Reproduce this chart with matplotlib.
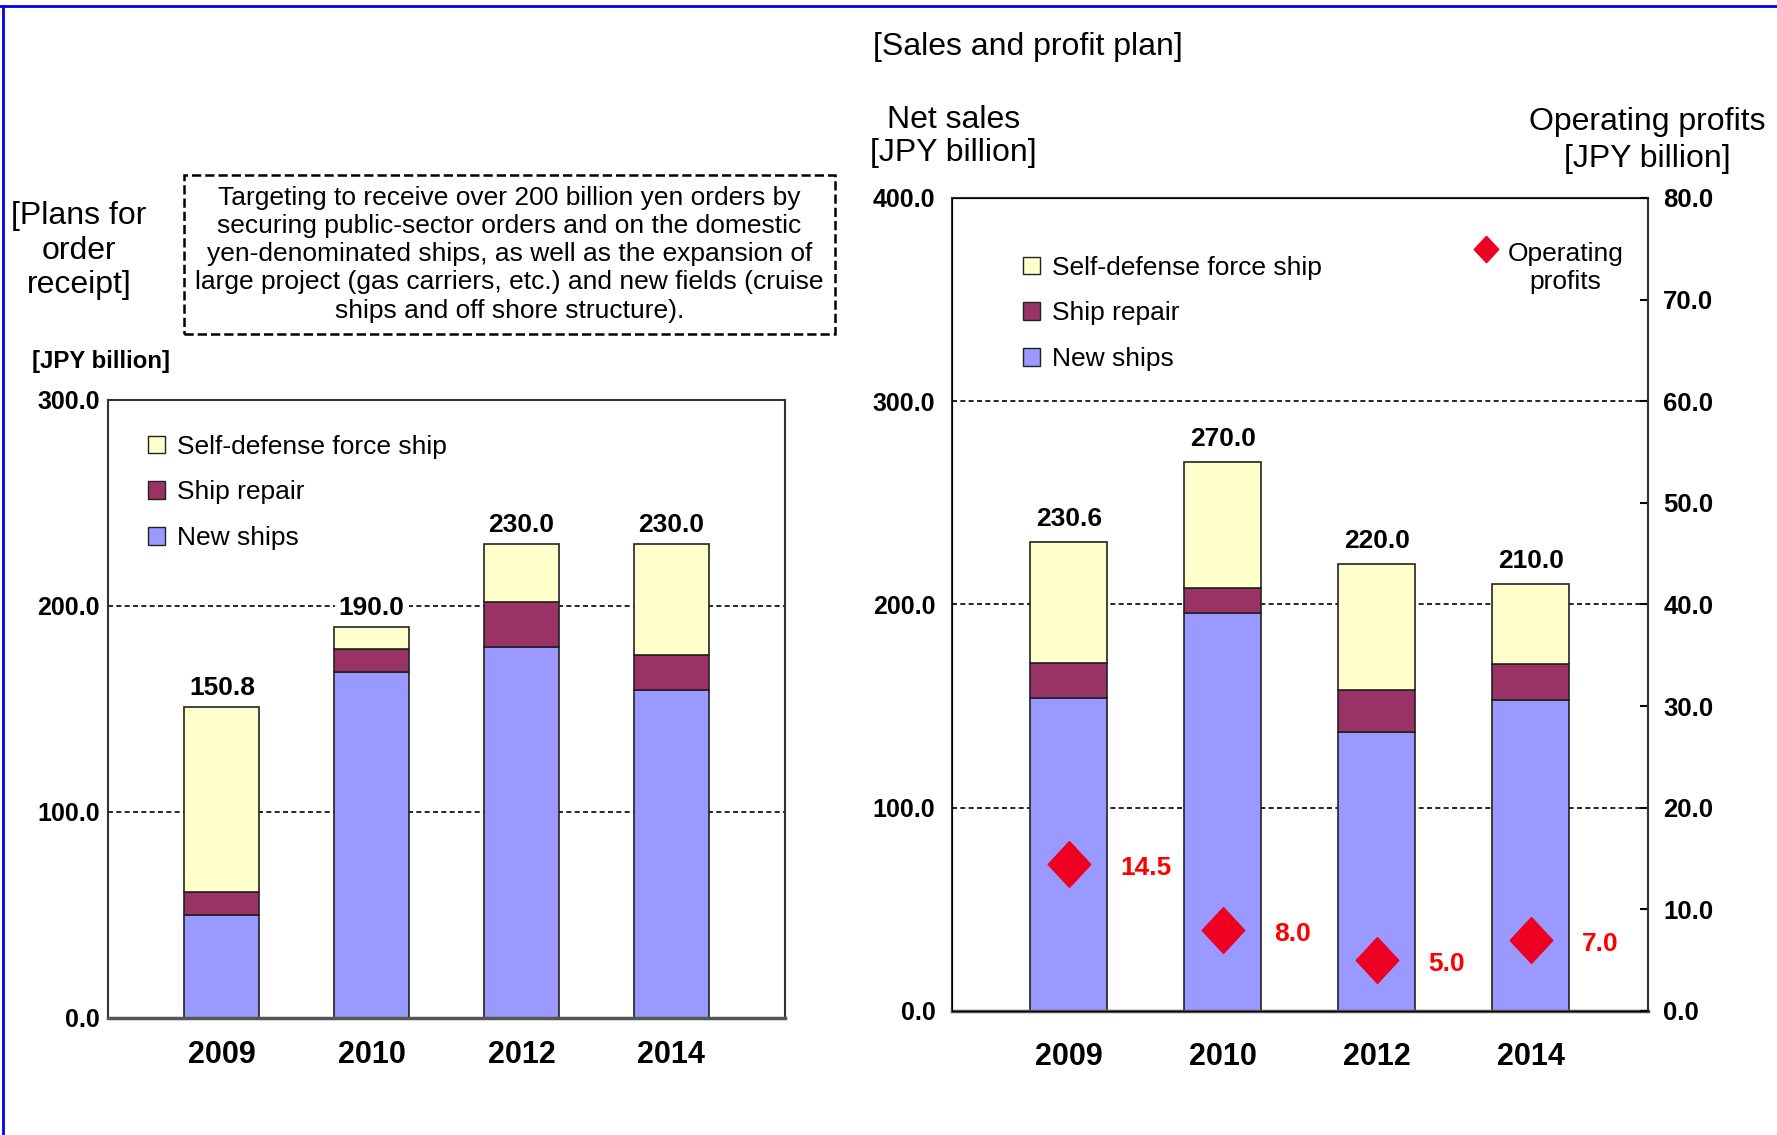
import matplotlib
matplotlib.use("Agg")
import matplotlib.pyplot as plt
from matplotlib.patches import Patch
from matplotlib.lines import Line2D
from matplotlib.legend_handler import HandlerLine2D
import numpy as np

plt.rcParams['font.family'] = ['Liberation Sans', 'DejaVu Sans']

# data
years = ['2009', '2010', '2012', '2014']

# plans for order receipt [JPY billion]
order_new = [50.0, 168.0, 180.0, 159.0]
order_repair = [11.0, 11.0, 22.0, 17.0]
order_sdf = [89.8, 11.0, 28.0, 54.0]
order_total = [150.8, 190.0, 230.0, 230.0]

# sales and profit plan [JPY billion]
sales_new = [154.0, 196.0, 137.0, 153.0]
sales_repair = [17.0, 12.0, 21.0, 17.5]
sales_sdf = [59.6, 62.0, 62.0, 39.5]
sales_total = [230.6, 270.0, 220.0, 210.0]
profits = [14.5, 8.0, 5.0, 7.0]

C_NEW = '#9999ff'
C_REPAIR = '#993366'
C_SDF = '#ffffcc'
EDGE = '#222222'
RED = '#ee0022'
DIAMOND = [(0, 1), (0.93, 0), (0, -1), (-0.93, 0), (0, 1)]
LEG_LABELS = ['Self-defense force ship', 'Ship repair', 'New ships']


class RaisedMarker(HandlerLine2D):
    # puts the legend marker level with the first line of a two-line label
    def create_artists(self, legend, orig_handle, xdescent, ydescent, width,
                       height, fontsize, trans):
        arts = super().create_artists(legend, orig_handle, xdescent, ydescent,
                                      width, height, fontsize, trans)
        for a in arts:
            a.set_ydata(np.asarray(a.get_ydata()) + 0.72 * fontsize)
        return arts


fig = plt.figure(figsize=(17.77, 11.35), dpi=100)
ax1 = fig.add_axes([0.0608, 0.1031, 0.381, 0.5445])
ax2 = fig.add_axes([0.5357, 0.1093, 0.3917, 0.7163])


def stacked(ax, new, repair, sdf, total, ymax, step, label_gap):
    x = np.arange(len(years))
    ax.bar(x, new, 0.5, color=C_NEW, edgecolor=EDGE, linewidth=1.2, zorder=3)
    ax.bar(x, repair, 0.5, bottom=new, color=C_REPAIR, edgecolor=EDGE,
           linewidth=1.2, zorder=3)
    bottom2 = np.array(new) + np.array(repair)
    ax.bar(x, sdf, 0.5, bottom=bottom2, color=C_SDF, edgecolor=EDGE,
           linewidth=1.2, zorder=3)
    for xi, t in zip(x, total):
        ax.annotate(f'{t:.1f}', (xi, t), xytext=(0, label_gap),
                    textcoords='offset points', ha='center', va='bottom',
                    fontsize=19, fontweight='bold', zorder=4,
                    bbox=dict(facecolor='white', edgecolor='none', pad=3))
    ax.set_xlim(-0.76, 3.76)
    ax.set_ylim(0, ymax)
    ticks = np.arange(0, ymax + 1, step)
    ax.set_yticks(ticks)
    ax.set_yticklabels([f'{v:.1f}' for v in ticks], fontsize=18, fontweight='bold')
    ax.set_xticks(x)
    ax.set_xticklabels(years, fontsize=22, fontweight='bold')
    ax.tick_params(axis='both', length=0)
    ax.yaxis.grid(True, color='black', linestyle=(0, (3, 2)), linewidth=1.2)
    ax.set_axisbelow(True)
    for s in ['left', 'right', 'top']:
        ax.spines[s].set_color('#333333')
        ax.spines[s].set_linewidth(1.5)
    ax.spines['bottom'].set_color('#555555')
    ax.spines['bottom'].set_linewidth(2.5)
    ax.spines['bottom'].set_zorder(4)
    return [Patch(facecolor=C_SDF, edgecolor=EDGE),
            Patch(facecolor=C_REPAIR, edgecolor=EDGE),
            Patch(facecolor=C_NEW, edgecolor=EDGE)]


h = stacked(ax1, order_new, order_repair, order_sdf, order_total, 300, 100, 5)
ax1.tick_params(axis='y', pad=6)
ax1.tick_params(axis='x', pad=16)
ax1.legend(h, LEG_LABELS, loc='upper left', bbox_to_anchor=(0.04, 0.965),
           frameon=False, fontsize=19, handlelength=0.64, handleheight=0.64,
           handletextpad=0.45, labelspacing=0.82, borderpad=0)

h = stacked(ax2, sales_new, sales_repair, sales_sdf, sales_total, 400, 100, 8)
ax2.tick_params(axis='y', pad=12)
ax2.tick_params(axis='x', pad=22)
ax2.legend(h, LEG_LABELS, loc='upper left', bbox_to_anchor=(0.083, 0.945),
           frameon=False, fontsize=19, handlelength=0.64, handleheight=0.64,
           handletextpad=0.45, labelspacing=0.82, borderpad=0)

# operating profits on the right-hand axis
ax2r = ax2.twinx()
ax2r.set_ylim(0, 80)
rticks = np.arange(0, 81, 10)
ax2r.set_yticks(rticks)
ax2r.set_yticklabels([f'{v:.1f}' for v in rticks], fontsize=18.5, fontweight='bold')
ax2r.tick_params(axis='y', direction='in', length=6, width=1.5, pad=11)
ax2r.spines['right'].set_color('#333333')
ax2r.spines['right'].set_linewidth(1.5)
xp = np.arange(len(years))
ax2r.plot(xp, profits, linestyle='none', marker=DIAMOND, markersize=33,
          color=RED, zorder=5)
for xi, p in zip(xp, profits):
    ax2r.annotate(f'{p:.1f}', (xi, p), xytext=(37, -3), textcoords='offset points',
                  ha='left', va='center', fontsize=19, fontweight='bold',
                  color='#ff0000')
key = Line2D([], [], linestyle='none', marker=DIAMOND, markersize=19, color=RED)
leg = ax2r.legend([key], ['Operating\nprofits'], loc='upper left',
                  bbox_to_anchor=(0.73, 0.962), frameon=False, fontsize=19,
                  handletextpad=0.3, borderpad=0, handlelength=1.0,
                  handler_map={key: RaisedMarker()})
leg.get_texts()[0].set_multialignment('center')

# headings and notes
fig.text(0.0445, 0.779, '[Plans for\norder\nreceipt]', ha='center', va='center',
         fontsize=23, linespacing=1.19)
fig.text(0.018, 0.6816, '[JPY billion]', ha='left', va='center', fontsize=17.3,
         fontweight='bold')
fig.text(0.2867, 0.776,
         'Targeting to receive over 200 billion yen orders by\n'
         'securing public-sector orders and on the domestic\n'
         'yen-denominated ships, as well as the expansion of\n'
         'large project (gas carriers, etc.) and new fields (cruise\n'
         'ships and off shore structure).',
         ha='center', va='center', fontsize=19, linespacing=1.22,
         bbox=dict(boxstyle='square,pad=0.42', facecolor='white',
                   edgecolor='black', linestyle='--', linewidth=1.8))
fig.text(0.4913, 0.959, '[Sales and profit plan]', ha='left', va='center',
         fontsize=23)
fig.text(0.5365, 0.88, 'Net sales\n[JPY billion]', ha='center', va='center',
         fontsize=23, linespacing=1.14)
fig.text(0.927, 0.876, 'Operating profits\n[JPY billion]', ha='center',
         va='center', fontsize=23, linespacing=1.3)

# blue frame lines along the top and left edges
fig.add_artist(Line2D([0.0017, 0.0017], [0, 0.9947], color='#0000ee',
                      linewidth=2, transform=fig.transFigure))
fig.add_artist(Line2D([0, 1], [0.9947, 0.9947], color='#0000ee',
                      linewidth=2, transform=fig.transFigure))

fig.savefig('out.png', dpi=100)
